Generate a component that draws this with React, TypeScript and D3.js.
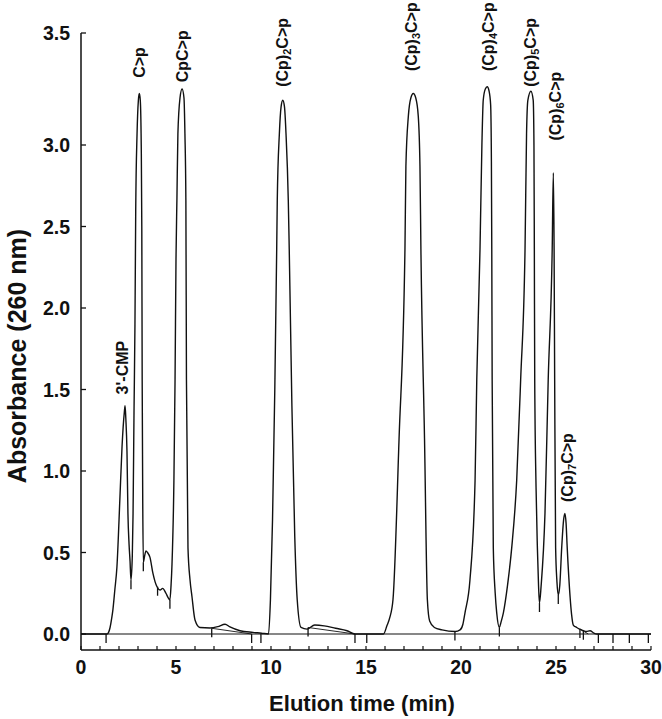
import React from "react";
import * as d3 from "d3";

// ---- data ----
const xTicks = [0, 5, 10, 15, 20, 25, 30];
const xMinorTicks = d3.range(0, 31, 1);
const yTicks = [0, 0.5, 1.0, 1.5, 2.0, 2.5, 3.0, 3.5];

// chromatogram trace: [elution time (min), absorbance]
const trace: [number, number][] = [
  [0, 0], [1.37, 0], [1.45, 0.01], [1.53, 0.04], [1.62, 0.1], [1.68, 0.15], [1.78, 0.27],
  [1.89, 0.41], [2.05, 0.84], [2.16, 1.15], [2.28, 1.36], [2.32, 1.4], [2.36, 1.32],
  [2.42, 1.12], [2.47, 0.74], [2.53, 0.55], [2.58, 0.45], [2.63, 0.33], [2.7, 0.48],
  [2.74, 0.74], [2.79, 1.36], [2.84, 1.9], [2.88, 2.6], [2.95, 3.05], [3.02, 3.2],
  [3.07, 3.23], [3.12, 3.2], [3.17, 3.0], [3.2, 2.5], [3.22, 1.56], [3.25, 0.8],
  [3.28, 0.44], [3.35, 0.48], [3.42, 0.51], [3.5, 0.5], [3.63, 0.47], [3.79, 0.37],
  [3.9, 0.32], [4.0, 0.29], [4.16, 0.27], [4.3, 0.28], [4.47, 0.25], [4.6, 0.22],
  [4.68, 0.21], [4.74, 0.3], [4.79, 0.43], [4.89, 0.94], [4.95, 1.56], [5.0, 2.3],
  [5.05, 2.68], [5.1, 3.05], [5.21, 3.21], [5.32, 3.25], [5.42, 3.21], [5.47, 3.05],
  [5.52, 2.66], [5.55, 1.56], [5.63, 0.53], [5.74, 0.33], [5.84, 0.23], [6.0, 0.086],
  [6.26, 0.04], [6.79, 0.037], [7.2, 0.045], [7.58, 0.06], [7.84, 0.043], [8.37, 0.02],
  [9.05, 0.01], [9.5, 0.005], [9.87, 0.0], [9.97, 0.21], [10.08, 0.7], [10.2, 1.5],
  [10.3, 2.36], [10.33, 2.66], [10.44, 3.05], [10.53, 3.17], [10.62, 3.2], [10.71, 3.17],
  [10.79, 3.05], [10.91, 2.66], [10.96, 2.36], [11.1, 1.4], [11.25, 0.6], [11.38, 0.21],
  [11.58, 0.04], [11.9, 0.03], [12.3, 0.055], [12.8, 0.05], [13.4, 0.035], [14.0, 0.02],
  [14.42, 0.0], [15.92, 0.0], [16.1, 0.05], [16.25, 0.1], [16.42, 0.21], [16.74, 1.2],
  [17.05, 2.36], [17.1, 2.87], [17.23, 3.13], [17.36, 3.21], [17.49, 3.23], [17.62, 3.21],
  [17.75, 3.13], [17.84, 2.87], [17.89, 2.36], [18.08, 1.2], [18.23, 0.21], [18.35, 0.08],
  [18.6, 0.04], [19.0, 0.025], [19.7, 0.015], [19.95, 0.025], [20.1, 0.06], [20.21, 0.13],
  [20.47, 0.33], [20.74, 0.94], [20.83, 1.56], [21.0, 2.36], [21.1, 3.0], [21.17, 3.2],
  [21.28, 3.25], [21.38, 3.26], [21.48, 3.24], [21.56, 3.18], [21.6, 2.9], [21.62, 2.36],
  [21.64, 1.56], [21.7, 0.53], [21.8, 0.25], [21.88, 0.13], [22.02, 0.04], [22.1, 0.07],
  [22.23, 0.13], [22.45, 0.3], [22.67, 0.53], [22.93, 0.94], [23.14, 1.56], [23.37, 2.36],
  [23.45, 3.05], [23.52, 3.2], [23.68, 3.24], [23.8, 3.2], [23.84, 3.0], [23.86, 2.36],
  [23.88, 1.56], [23.95, 0.9], [24.02, 0.53], [24.08, 0.3], [24.13, 0.19], [24.22, 0.3],
  [24.42, 0.74], [24.59, 1.56], [24.8, 2.36], [24.86, 2.83], [24.9, 2.36], [24.93, 1.56],
  [24.98, 0.53], [25.05, 0.32], [25.12, 0.24], [25.2, 0.3], [25.3, 0.53], [25.4, 0.7],
  [25.47, 0.74], [25.53, 0.68], [25.59, 0.53], [25.74, 0.23], [25.82, 0.12], [25.91, 0.055],
  [26.09, 0.04], [26.25, 0.03], [26.44, 0.02], [26.6, 0.015], [26.79, 0.02], [27.0, 0.005],
  [27.14, 0], [30, 0],
];

// integration event marks: [time, absorbance at mark top]
const eventMarks: [number, number][] = [
  [1.32, 0], [2.63, 0.33], [3.28, 0.44], [4.03, 0.29], [4.68, 0.21], [6.88, 0.035],
  [8.98, 0], [9.47, 0], [11.95, 0.04], [14.42, 0], [15.04, 0], [19.68, 0.015],
  [22.02, 0.04], [24.13, 0.19], [25.12, 0.24], [26.26, 0.03], [26.44, 0.02],
  [27.23, 0], [28.0, 0], [28.86, 0], [29.86, 0],
];

// integration baselines under small humps
const dropBaselines: [number, number][][] = [
  [[6.88, 0.035], [8.98, 0.0]],
  [[11.95, 0.04], [14.42, 0.0]],
  [[26.26, 0.03], [26.7, 0.0]],
];

// peak labels: prefix, subscript, suffix, anchor time, anchor absorbance
const labelPrefix = ["3'-CMP", "C>p", "CpC>p", "(Cp)", "(Cp)", "(Cp)", "(Cp)", "(Cp)", "(Cp)"];
const labelSub = ["", "", "", "2", "3", "4", "5", "6", "7"];
const labelSuffix = ["", "", "", "C>p", "C>p", "C>p", "C>p", "C>p", "C>p"];
const labelTime = [2.45, 3.38, 5.64, 10.9, 17.7, 21.75, 23.95, 25.27, 25.9];
const labelAbs = [1.47, 3.3, 3.28, 3.26, 3.33, 3.33, 3.26, 3.02, 0.81];

const W = 662;
const H = 719;
const FONT = "'Liberation Sans', Arial, Helvetica, sans-serif";

export default function App() {
  const x = d3.scaleLinear().domain([0, 30]).range([81, 651]);
  const y = d3.scaleLinear().domain([0, 3, 3.5]).range([634, 145, 33]);
  const axisY = 650;

  const line = d3
    .line<[number, number]>()
    .x((d) => x(d[0]))
    .y((d) => y(d[1]))
    .curve(d3.curveMonotoneX);
  const straight = d3
    .line<[number, number]>()
    .x((d) => x(d[0]))
    .y((d) => y(d[1]));

  return (
    <svg
      width={W}
      height={H}
      viewBox={`0 0 ${W} ${H}`}
      style={{ position: "absolute", left: 0, top: 0, background: "#fff" }}
      fontFamily={FONT}
    >
      <rect x={0} y={0} width={W} height={H} fill="#fff" />
      {/* y axis */}
      <line x1={x(0)} x2={x(0)} y1={y(3.5)} y2={axisY} stroke="#111" strokeWidth={1.5} />
      {yTicks.map((t) => (
        <g key={"yt" + t}>
          <line x1={x(0)} x2={x(0) + 5} y1={y(t)} y2={y(t)} stroke="#111" strokeWidth={1.3} />
          <text
            x={70}
            y={y(t)}
            dy="0.36em"
            textAnchor="end"
            fontSize={19.5}
            fontWeight="bold"
            fill="#111"
          >
            {d3.format(".1f")(t)}
          </text>
        </g>
      ))}
      {/* x axis */}
      <line x1={x(0)} x2={x(30)} y1={axisY} y2={axisY} stroke="#111" strokeWidth={1.5} />
      {xMinorTicks.map((t) => (
        <line key={"xm" + t} x1={x(t)} x2={x(t)} y1={axisY} y2={axisY - 4} stroke="#111" strokeWidth={1.2} />
      ))}
      {xTicks.map((t) => (
        <text
          key={"xt" + t}
          x={x(t)}
          y={674}
          textAnchor="middle"
          fontSize={19.5}
          fontWeight="bold"
          fill="#111"
        >
          {t}
        </text>
      ))}
      {/* titles */}
      <text
        x={362}
        y={711}
        textAnchor="middle"
        fontSize={22}
        fontWeight="bold"
        fill="#111"
      >
        Elution time (min)
      </text>
      <text
        transform={`translate(26, ${356}) rotate(-90)`}
        textAnchor="middle"
        fontSize={25}
        fontWeight="bold"
        fill="#111"
      >
        Absorbance (260 nm)
      </text>
      {/* recorder baseline */}
      <line x1={x(0)} x2={x(30)} y1={y(0)} y2={y(0)} stroke="#111" strokeWidth={1.2} />
      {/* integration baselines */}
      {dropBaselines.map((seg, i) => (
        <path key={"db" + i} d={straight(seg) || ""} fill="none" stroke="#111" strokeWidth={0.9} />
      ))}
      {/* trace */}
      <path d={line(trace) || ""} fill="none" stroke="#111" strokeWidth={1.4} strokeLinejoin="round" />
      {/* event marks */}
      {eventMarks.map((m, i) => (
        <line
          key={"ev" + i}
          x1={x(m[0])}
          x2={x(m[0])}
          y1={y(m[1])}
          y2={y(m[1]) + 9}
          stroke="#111"
          strokeWidth={1.3}
        />
      ))}
      {/* peak labels */}
      {labelPrefix.map((p, i) => (
        <text
          key={"lb" + i}
          transform={`translate(${x(labelTime[i])}, ${y(labelAbs[i])}) rotate(-90)`}
          fontSize={16}
          fontWeight="bold"
          fill="#111"
        >
          {p}
          {labelSub[i] ? (
            <>
              <tspan fontSize={11} dy={3}>
                {labelSub[i]}
              </tspan>
              <tspan dy={-3}>{labelSuffix[i]}</tspan>
            </>
          ) : null}
        </text>
      ))}
    </svg>
  );
}
